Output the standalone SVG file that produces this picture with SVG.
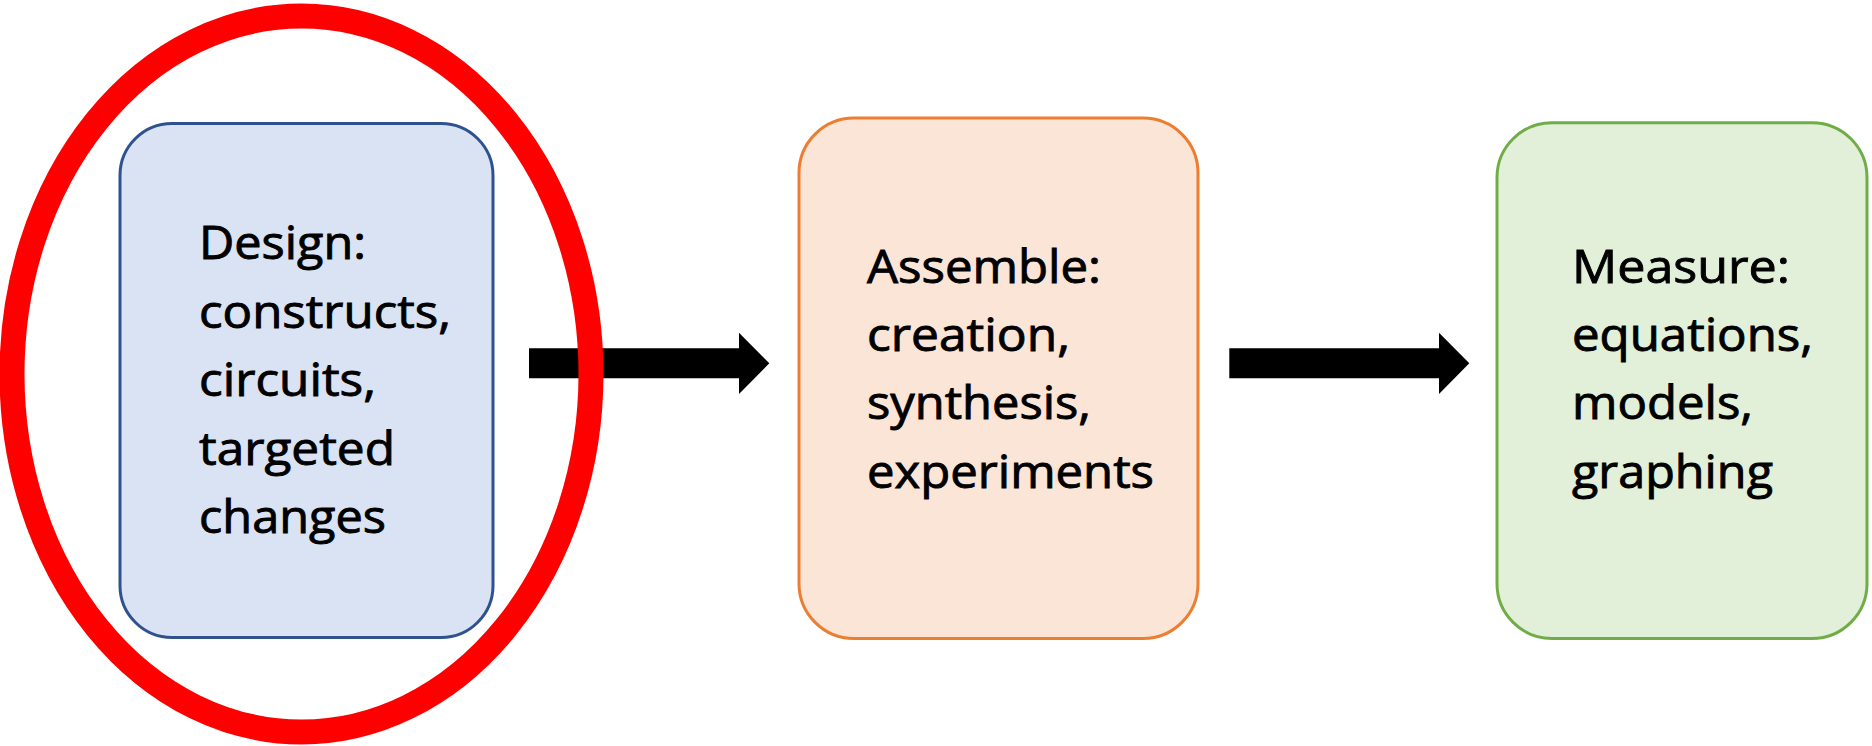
<svg xmlns="http://www.w3.org/2000/svg" width="1872" height="746" viewBox="0 0 1872 746">
<style>
.lbl{font-family:"Open Sans","Noto Sans","Liberation Sans",sans-serif;font-size:46px;fill:#000;stroke:#000;stroke-width:0.9px}
.box{stroke-width:3}
</style>
<rect width="1872" height="746" fill="#fff"/>
<g id="connectors">
<polygon id="arrow1" points="529,348.3 739,348.3 739,332.7 769.3,363.3 739,394 739,378.3 529,378.3" fill="#000"/>
<polygon id="arrow2" points="1229.3,348.3 1439,348.3 1439,332.7 1469.3,363.3 1439,394 1439,378.3 1229.3,378.3" fill="#000"/>
</g>
<g id="design">
<rect class="box" x="120" y="123.5" width="373" height="514" rx="52" ry="52" fill="#DAE3F3" stroke="#2F528F"/>
<text class="lbl" lengthAdjust="spacingAndGlyphs"><tspan x="199" y="259" textLength="167" lengthAdjust="spacingAndGlyphs">Design:</tspan><tspan x="199" y="327.5" textLength="252" lengthAdjust="spacingAndGlyphs">constructs,</tspan><tspan x="199" y="396" textLength="177" lengthAdjust="spacingAndGlyphs">circuits,</tspan><tspan x="199" y="464.5" textLength="196" lengthAdjust="spacingAndGlyphs">targeted</tspan><tspan x="199" y="533" textLength="187" lengthAdjust="spacingAndGlyphs">changes</tspan></text>
</g>
<g id="assemble">
<rect class="box" x="799" y="118" width="399" height="520.5" rx="55" ry="55" fill="#FBE5D6" stroke="#ED7D31"/>
<text class="lbl"><tspan x="867" y="283" textLength="234" lengthAdjust="spacingAndGlyphs">Assemble:</tspan><tspan x="867" y="351" textLength="203" lengthAdjust="spacingAndGlyphs">creation,</tspan><tspan x="867" y="419" textLength="224" lengthAdjust="spacingAndGlyphs">synthesis,</tspan><tspan x="867" y="487.5" textLength="287" lengthAdjust="spacingAndGlyphs">experiments</tspan></text>
</g>
<g id="measure">
<rect class="box" x="1497" y="122.7" width="370" height="515.8" rx="55" ry="55" fill="#E2F0D9" stroke="#70AD47"/>
<text class="lbl"><tspan x="1572" y="283" textLength="218" lengthAdjust="spacingAndGlyphs">Measure:</tspan><tspan x="1572" y="351" textLength="241" lengthAdjust="spacingAndGlyphs">equations,</tspan><tspan x="1572" y="419" textLength="181" lengthAdjust="spacingAndGlyphs">models,</tspan><tspan x="1572" y="487.5" textLength="201" lengthAdjust="spacingAndGlyphs">graphing</tspan></text>
</g>
<g id="highlight">
<ellipse cx="301.5" cy="374" rx="289.5" ry="358" fill="none" stroke="#FF0000" stroke-width="25"/>
</g>
</svg>
